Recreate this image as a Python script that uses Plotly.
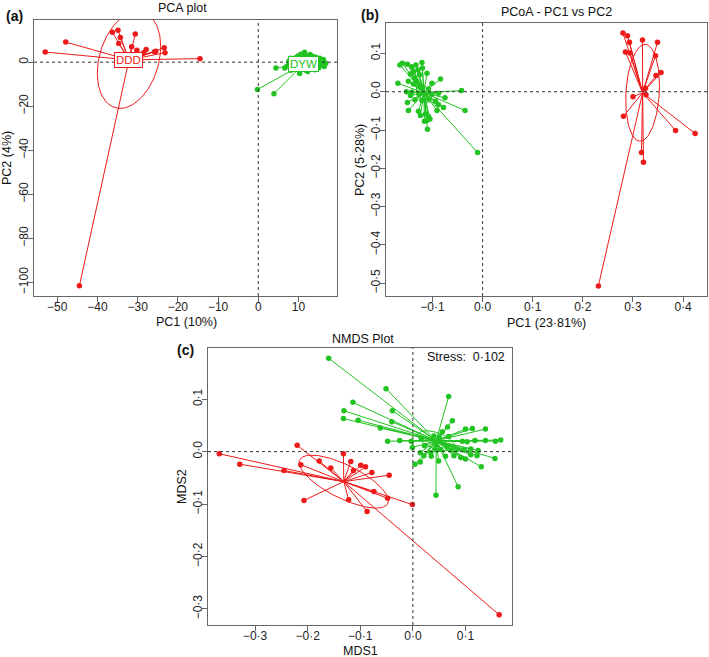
import numpy as np
import plotly.graph_objects as go

RED = "#EE1A1A"
GREEN = "#22C322"
FONT = "Liberation Sans, Arial, sans-serif"

# ---------------- (a) PCA plot ----------------
pca_ddd_x = [-53.0, -47.9, -36.3, -34.9, -34.3, -34.7, -30.6, -31.5, -30.2, -28.5, -27.9,
             -25.8, -25.5, -23.4, -23.2, -14.5, -44.5]
pca_ddd_y = [4.6, 9.1, 13.6, 14.5, 11.2, 8.5, 12.8, 7.0, 5.4, 4.3, 5.8,
             4.7, 5.0, 6.5, 4.3, 1.6, -101.5]
pca_dyw_x = [-0.2, 3.9, 4.4, 6.6,
             11.5, 10.3, 12.3, 8.1, 16.4, 16.0, 15.3, 14.3, 9.9, 8.6, 7.6, 7.2, 9.2, 11.8, 14.0, 15.0, 16.8,
             9.0, 9.5, 10.0, 10.5, 10.8, 11.0, 11.2, 11.6, 12.0, 12.2, 12.5, 12.8, 13.0, 13.2, 13.5, 13.8,
             14.2, 14.6, 14.8, 15.5, 15.8, 10.2, 11.4, 12.9, 13.6, 8.4, 9.8, 16.2, 12.6, 10.6, 14.5,
             8.0, 8.8, 9.3, 7.9, 10.0, 9.6]
pca_dyw_y = [-12.4, -14.3, -2.6, -2.6,
             4.5, -5.2, -4.2, -3.7, -2.0, 0.6, 1.8, 2.2, 2.8, 1.3, 0.3, -1.7, -3.1, -3.7, -3.4, -2.7, -0.5,
             0.5, -1.0, 1.5, 0.2, -2.0, 2.0, -0.8, 1.0, -1.5, 0.5, 2.8, -2.5, 1.2, -0.3, -1.8, 0.8,
             -0.9, 0.3, -1.6, -0.2, -1.2, -3.0, 3.2, 3.5, 2.6, -0.6, -2.2, 1.2, -3.0, 3.6, -2.3,
             1.8, -2.5, 2.0, -1.0, -0.4, 0.9]
pca_xticks = [-50, -40, -30, -20, -10, 0, 10]
pca_xlabels = ["−50", "−40", "−30", "−20", "−10", "0", "10"]
pca_yticks = [-100, -80, -60, -40, -20, 0]
pca_ylabels = ["−100", "−80", "−60", "−40", "−20", "0"]

# ---------------- (b) PCoA ----------------
pcoa_ddd_x = [0.280, 0.289, 0.293, 0.285, 0.294, 0.319, 0.349, 0.345, 0.356, 0.346, 0.325,
              0.300, 0.326, 0.281, 0.385, 0.424, 0.317, 0.321, 0.231]
pcoa_ddd_y = [0.153, 0.146, 0.129, 0.104, 0.101, 0.135, 0.129, 0.094, 0.050, 0.042, 0.009,
              -0.013, -0.008, -0.064, -0.101, -0.109, -0.159, -0.184, -0.507]
pcoa_dyw_x = [-0.165, -0.160, -0.150, -0.141, -0.133, -0.121, -0.120, -0.129, -0.138, -0.126,
              -0.144, -0.111, -0.136, -0.148, -0.131, -0.101, -0.084, -0.169, -0.138, -0.125,
              -0.108, -0.120, -0.152, -0.141, -0.144, -0.127, -0.114, -0.101, -0.088, -0.075,
              -0.150, -0.135, -0.121, -0.108, -0.094, -0.088, -0.078, -0.148, -0.128, -0.114,
              -0.108, -0.105, -0.124, -0.091, -0.111, -0.116, -0.110, -0.042, -0.035, -0.010]
pcoa_dyw_y = [0.070, 0.074, 0.072, 0.065, 0.070, 0.076, 0.062, 0.057, 0.053, 0.044,
              0.046, 0.048, 0.036, 0.027, 0.027, 0.022, 0.033, 0.022, 0.020, 0.012,
              0.007, 0.010, 0.000, -0.001, -0.010, -0.006, -0.006, -0.006, -0.004, -0.016,
              -0.028, -0.021, -0.023, -0.019, -0.025, -0.034, -0.041, -0.049, -0.051, -0.058,
              -0.065, -0.071, -0.062, -0.049, -0.075, -0.077, -0.098, 0.003, -0.049, -0.159]
pcoa_xticks = [-0.1, 0.0, 0.1, 0.2, 0.3, 0.4]
pcoa_xlabels = ["−0·1", "0·0", "0·1", "0·2", "0·3", "0·4"]
pcoa_yticks = [-0.5, -0.4, -0.3, -0.2, -0.1, 0.0, 0.1]
pcoa_ylabels = ["−0·5", "−0·4", "−0·3", "−0·2", "−0·1", "0·0", "0·1"]

# ---------------- (c) NMDS ----------------
nmds_ddd_x = [-0.368, -0.329, -0.245, -0.220, -0.213, -0.178, -0.156, -0.132, -0.118, -0.113,
              -0.099, -0.090, -0.078, -0.045, -0.074, -0.048, -0.207, -0.122, -0.087, -0.001, 0.164]
nmds_ddd_y = [-0.004, -0.024, -0.036, 0.012, -0.025, -0.018, -0.031, -0.004, -0.019, -0.036,
              -0.026, -0.029, -0.040, -0.045, -0.076, -0.089, -0.093, -0.092, -0.114, -0.101, -0.311]
nmds_dyw_x = [-0.160, -0.051, -0.114, -0.131, -0.039, -0.132, -0.104, -0.040, -0.062,
              0.068, 0.075, 0.066, 0.056, 0.100, 0.113, 0.138,
              -0.048, -0.025, -0.003, 0.016, 0.068, 0.094, 0.103, 0.118, 0.138, 0.157, 0.167,
              -0.001, 0.022, 0.034, 0.044, 0.053, 0.065, 0.073, 0.084, 0.097, 0.110, 0.124,
              0.014, 0.021, 0.035, 0.049, 0.062, 0.078, 0.091, 0.100, 0.110, 0.122, 0.156,
              0.004, 0.014, 0.130, 0.086, 0.044, 0.040, 0.050, 0.045]
nmds_dyw_y = [0.178, 0.120, 0.094, 0.078, 0.078, 0.063, 0.060, 0.057, 0.045,
              0.105, 0.059, 0.047, 0.038, 0.043, 0.044, 0.043,
              0.020, 0.021, 0.020, 0.025, 0.029, 0.020, 0.019, 0.021, 0.021, 0.020, 0.022,
              0.008, 0.011, -0.002, 0.003, 0.004, 0.009, 0.003, 0.004, 0.003, 0.005, 0.002,
              -0.002, -0.008, -0.009, -0.018, -0.009, -0.008, -0.011, -0.014, -0.006, -0.008, -0.013,
              -0.024, -0.020, -0.029, -0.067, -0.083, 0.030, 0.028, 0.012]
nmds_xticks = [-0.3, -0.2, -0.1, 0.0, 0.1]
nmds_xlabels = ["−0·3", "−0·2", "−0·1", "0·0", "0·1"]
nmds_yticks = [-0.3, -0.2, -0.1, 0.0, 0.1]
nmds_ylabels = ["−0·3", "−0·2", "−0·1", "0·0", "0·1"]
nmds_stress = "0·102"

W, H = 709, 657
ELLIPSE_SCALE = 3.4  # radius multiplier on the standard-error ellipse


def centroid(xs, ys):
    return float(np.mean(xs)), float(np.mean(ys))


def spider(xs, ys):
    cx, cy = centroid(xs, ys)
    lx, ly = [], []
    for x, y in zip(xs, ys):
        lx += [cx, x, None]
        ly += [cy, y, None]
    return lx, ly


def se_ellipse(xs, ys, n=120):
    # standard-error ellipse, like vegan::ordiellipse(kind="se")
    pts = np.column_stack([xs, ys])
    c = pts.mean(axis=0)
    cov = np.cov(pts, rowvar=False) / len(pts)
    L = np.linalg.cholesky(cov)
    t = np.linspace(0, 2 * np.pi, n)
    e = c[:, None] + ELLIPSE_SCALE * L @ np.vstack([np.cos(t), np.sin(t)])
    return e[0], e[1]


def padded(vals):
    lo, hi = min(vals), max(vals)
    d = (hi - lo) * 0.04
    return [lo - d, hi + d]


def px_x(p):
    return p / W


def px_y(p):
    return 1 - p / H


fig = go.Figure()

panels = [
    # axis suffix, groups, pixel box (left, right, top, bottom), ticks
    ("", [(pca_ddd_x, pca_ddd_y, RED), (pca_dyw_x, pca_dyw_y, GREEN)], (34, 337, 20, 296),
     (pca_xticks, pca_xlabels, pca_yticks, pca_ylabels)),
    ("2", [(pcoa_ddd_x, pcoa_ddd_y, RED), (pcoa_dyw_x, pcoa_dyw_y, GREEN)], (386, 707, 23, 296),
     (pcoa_xticks, pcoa_xlabels, pcoa_yticks, pcoa_ylabels)),
    ("3", [(nmds_ddd_x, nmds_ddd_y, RED), (nmds_dyw_x, nmds_dyw_y, GREEN)], (208, 512, 348, 625),
     (nmds_xticks, nmds_xlabels, nmds_yticks, nmds_ylabels)),
]

shapes = []
layout_axes = {}
for suf, groups, box, ticks in panels:
    xa, ya = "x" + suf, "y" + suf
    allx, ally = [], []
    for xs, ys, col in groups:
        allx += xs
        ally += ys
        ex, ey = se_ellipse(xs, ys)
        fig.add_trace(go.Scatter(x=ex, y=ey, mode="lines", line=dict(color=col, width=1),
                                 xaxis=xa, yaxis=ya, hoverinfo="skip"))
        lx, ly = spider(xs, ys)
        fig.add_trace(go.Scatter(x=lx, y=ly, mode="lines", line=dict(color=col, width=1),
                                 xaxis=xa, yaxis=ya, hoverinfo="skip"))
        fig.add_trace(go.Scatter(x=xs, y=ys, mode="markers", marker=dict(color=col, size=5.5),
                                 xaxis=xa, yaxis=ya))
    left, right, top, bottom = box
    common = dict(showgrid=False, zeroline=False, showline=True, linecolor="#666", linewidth=1,
                  mirror=True, ticks="outside", ticklen=5, tickcolor="#666", tickwidth=1,
                  ticklabelstandoff=-5, tickfont=dict(size=12, color="#222", family=FONT))
    layout_axes["xaxis" + suf] = dict(common, domain=[px_x(left), px_x(right)], range=padded(allx),
                                      tickvals=ticks[0], ticktext=ticks[1], anchor=ya)
    layout_axes["yaxis" + suf] = dict(common, domain=[px_y(bottom), px_y(top)], range=padded(ally),
                                      tickvals=ticks[2], ticktext=ticks[3], anchor=xa, tickangle=-90)
    dot = dict(color="#333", width=1, dash="dot")
    shapes.append(dict(type="line", xref=xa, yref=ya + " domain", x0=0, x1=0, y0=0, y1=1, line=dot))
    shapes.append(dict(type="line", xref=xa + " domain", yref=ya, x0=0, x1=1, y0=0, y1=0, line=dot))


def txt(text, x, y, size=12.5, bold=False, angle=0, xanchor="center"):
    return dict(text=f"<b>{text}</b>" if bold else text, x=px_x(x), y=px_y(y), xref="paper",
                yref="paper", showarrow=False, xanchor=xanchor, yanchor="middle", textangle=angle,
                font=dict(size=size, color="#111", family=FONT))


annotations = [
    txt("PCA plot", 182, 8), txt("(a)", 15, 16, 14, True),
    txt("PC1 (10%)", 186, 322), txt("PC2 (4%)", 7, 158, angle=-90),
    txt("PCoA - PC1 vs PC2", 556, 12), txt("(b)", 370, 15, 14, True),
    txt("PC1 (23·81%)", 546, 323), txt("PC2 (5·28%)", 360, 160, angle=-90),
    txt("NMDS Plot", 363, 339), txt("(c)", 185, 350, 14, True),
    txt("MDS1", 360, 651), txt("MDS2", 182, 487, angle=-90),
    txt("Stress:  " + nmds_stress, 507, 357, 12.5, xanchor="right"),
]

for xs, ys, col, name in [(pca_ddd_x, pca_ddd_y, RED, "DDD"), (pca_dyw_x, pca_dyw_y, GREEN, "DYW")]:
    cx, cy = centroid(xs, ys)
    annotations.append(dict(text=name, x=cx, y=cy, xref="x", yref="y", showarrow=False,
                            bgcolor="white", bordercolor=col, borderwidth=1, borderpad=1,
                            font=dict(size=11.5, color=col, family=FONT)))

fig.update_layout(
    width=W, height=H, margin=dict(l=0, r=0, t=0, b=0),
    plot_bgcolor="white", paper_bgcolor="white", showlegend=False,
    shapes=shapes, annotations=annotations, font=dict(family=FONT),
    **layout_axes,
)

fig.write_html("out.html", config={"displayModeBar": False},
               post_script="document.body.style.margin='0';document.body.style.overflow='hidden';")
